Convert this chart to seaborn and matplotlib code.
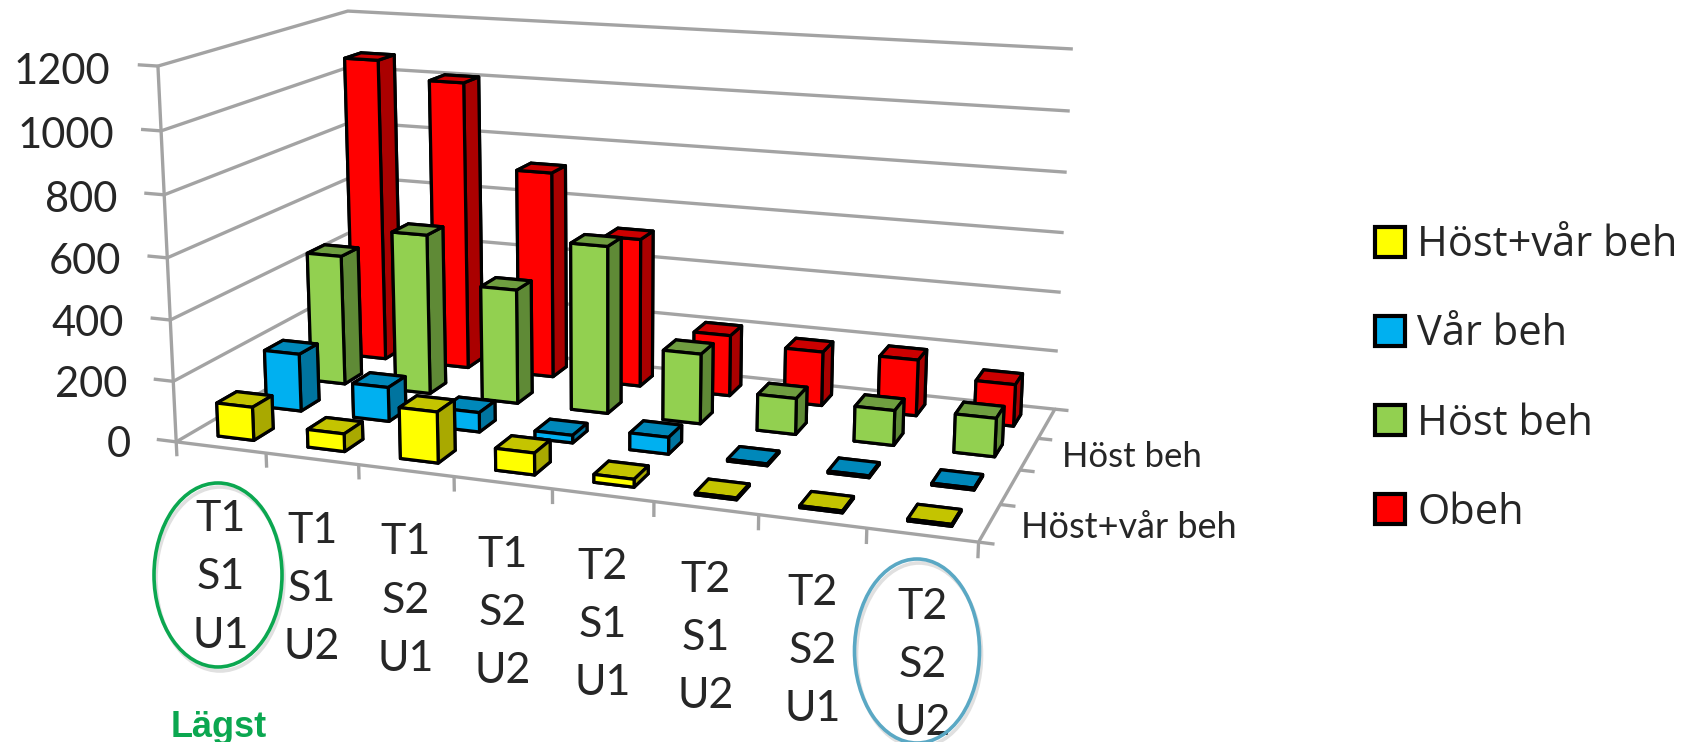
import numpy as np
import pandas as pd
import seaborn as sns
from matplotlib import pyplot as plt
from matplotlib.patches import Ellipse, Patch

# chart values
groups = ["T1\nS1\nU1", "T1\nS1\nU2", "T1\nS2\nU1", "T1\nS2\nU2", "T2\nS1\nU1", "T2\nS1\nU2", "T2\nS2\nU1", "T2\nS2\nU2"]
series = ["Höst+vår beh", "Vår beh", "Höst beh", "Obeh"]
host_var = [110, 58, 165, 70, 25, 6, 6, 6]
var = [195, 115, 65, 25, 55, 6, 6, 6]
host = [450, 550, 390, 565, 235, 120, 115, 125]
obeh = [1070, 1010, 720, 515, 210, 185, 190, 140]
z_ticks = [0, 200, 400, 600, 800, 1000, 1200]
side_labels = ["Höst+vår beh", "Höst beh"]

front = ["#ffff00", "#00b0f0", "#92d050", "#ff0000"]
top = ["#c4c400", "#0088ba", "#6f9e40", "#cc0000"]
side = ["#a9a900", "#00749f", "#5f8a36", "#aa0000"]

W, H = 1698, 742
GREY = "#a3a3a3"
TEXT = "#262626"


def fit_camera():
    # 3D chart corners -> where they sit in the picture (pixels, y down)
    world = [(0, 0, 0), (8, 0, 0), (8, 4, 0), (0, 4, 0), (0, 0, 1200), (0, 4, 1200), (8, 4, 1200), (8, 4, 600), (0, 0, 600)]
    image = [(176, 440), (979, 543), (1056, 408), (357, 338), (158, 67), (348, 10), (1074, 49), (1061, 233), (167, 258)]
    rows = []
    for (x, y, z), (u, v) in zip(world, image):
        p = [x / 8, y / 4, z / 1200, 1]
        u, v = u / 1000, v / 1000
        rows.append(p + [0, 0, 0, 0] + [-u * c for c in p])
        rows.append([0, 0, 0, 0] + p + [-v * c for c in p])
    _, _, vt = np.linalg.svd(np.array(rows, dtype=float))
    P = vt[-1].reshape(3, 4)
    P = np.diag([1000, 1000, 1]) @ P @ np.diag([1 / 8, 1 / 4, 1 / 1200, 1])
    if P[2] @ np.array([4, 2, 600, 1]) < 0:
        P = -P
    return P


sns.set_style("white")
plt.rcParams["font.family"] = ["Lato", "DejaVu Sans"]

df = pd.DataFrame({"Höst+vår beh": host_var, "Vår beh": var, "Höst beh": host, "Obeh": obeh}, index=groups)
long_df = df.reset_index(names="group").melt(id_vars="group", var_name="series", value_name="value")
long_df["xpos"] = long_df.group.map({g: i for i, g in enumerate(groups)})
long_df["ypos"] = long_df.series.map({s: i for i, s in enumerate(series)})

fig = plt.figure(figsize=(W / 100, H / 100), dpi=100)
ax = fig.add_axes([0, 0, 1, 1], projection="3d")
ax.apply_aspect = lambda position=None: None  # keep axes over the whole figure
ax.set_axis_off()
ax.computed_zorder = False

# camera fitted to the chart corners instead of elev/azim
P = fit_camera()
to_axes = ax.transData.inverted().get_matrix() @ np.array([[1, 0, 0], [0, -1, H], [0, 0, 1]])
A = to_axes @ P
M = np.vstack([A[0], A[1], [0, 0, 0, -1], A[2]])
ax.get_proj = lambda: M


def line3(xs, ys, zs):
    ax.plot(xs, ys, zs, color=GREY, lw=2.4, zorder=1, solid_capstyle="butt")


def label(x, y, z, s, dx=0, dy=0, **kwargs):
    # text goes on the figure, at the projected spot of a chart position
    u, v, w = P @ np.array([x, y, z, 1])
    fig.text((u / w + dx) / W, 1 - (v / w + dy) / H, s, va="center", color=TEXT, **kwargs)


# walls and axes
for z in z_ticks[1:]:
    line3([0, 0, 8], [0, 4, 4], [z, z, z])
line3([0, 0, 8, 8, 0], [4, 0, 0, 4, 4], [0, 0, 0, 0, 0])
line3([0, 0], [0, 0], [0, 1200])
for z in z_ticks:
    line3([-0.22, 0], [0, 0], [z, z])
    label(-0.52, 0, z, str(z), dy=9, ha="right", fontsize=30)
for i in range(9):
    line3([i, i], [0, 0], [0, -48])
for j in range(5):
    line3([8, 8.14], [j, j], [0, 0])

# bars, back to front and left to right
order = long_df.sort_values(["ypos", "xpos"], ascending=[False, True])
for n, row in enumerate(order.itertuples()):
    j = row.ypos
    colors = [side[j], top[j], front[j], side[j], side[j], side[j]]
    ax.bar3d(row.xpos + 0.3, j + 0.3, 0, 0.4, 0.4, row.value, color=colors, edgecolor="black",
             linewidth=2.3, shade=False, zorder=10 + n)

# category labels under the front edge
for i, g in enumerate(groups):
    label(i + 0.5, 0, 0, g, dy=130, ha="center", fontsize=31, linespacing=1.65)
label(8.28, 0.5, 0, side_labels[0], dy=1, ha="left", fontsize=26)
label(8.32, 2.5, 0, side_labels[1], dy=-1, ha="left", fontsize=25)

# ellipses around lowest and highest
for cx, cy, w, h, color in [(218, 575, 128, 184, "#0ba750"), (917, 651, 125, 184, "#5aa8c4")]:
    fig.add_artist(Ellipse(((cx + 2) / W, 1 - (cy + 4) / H), w / W, h / H, fill=False, ec="#e0e0e0", lw=2.6,
                           transform=fig.transFigure, zorder=4))
    fig.add_artist(Ellipse((cx / W, 1 - cy / H), w / W, h / H, fill=False, ec=color, lw=2.6,
                           transform=fig.transFigure, zorder=5))
fig.text(219 / W, 1 - 737 / H, "Lägst", ha="center", va="baseline", fontsize=26, fontweight="bold",
         family="Liberation Sans", color="#0ba750")

handles = [Patch(facecolor=c, edgecolor="black", linewidth=3, label=s) for c, s in zip(front, series)]
fig.legend(handles=handles, loc="center left", bbox_to_anchor=(1375 / W, 1 - 379 / H), frameon=False,
           handlelength=0.72, handleheight=0.72, handletextpad=0.29, labelspacing=1.13,
           borderpad=0, borderaxespad=0, labelcolor=TEXT, prop={"family": "Open Sans", "size": 30})

fig.savefig("out.png", dpi=100)
